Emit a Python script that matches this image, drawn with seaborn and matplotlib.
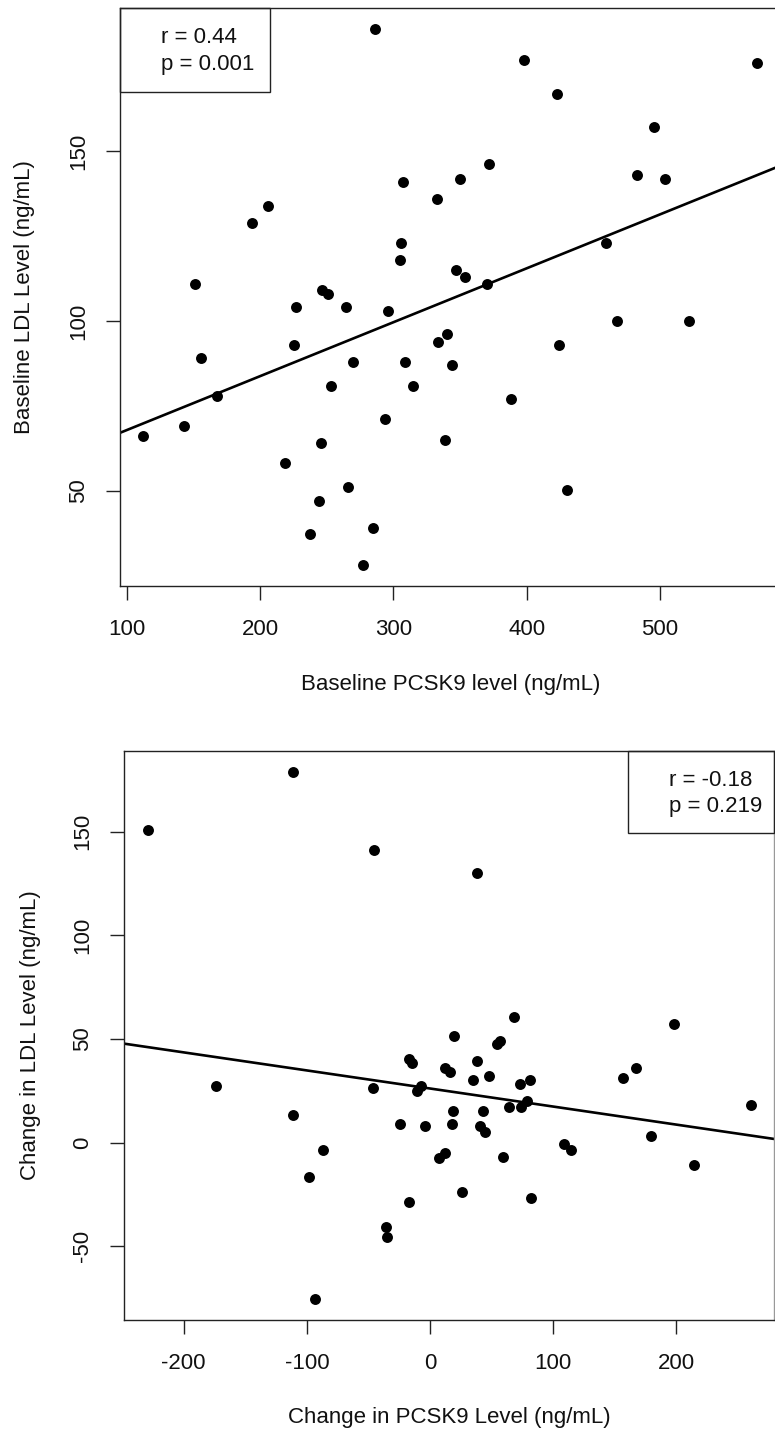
import numpy as np
import pandas as pd
import matplotlib
matplotlib.use("Agg")
import matplotlib.pyplot as plt
import seaborn as sns
from matplotlib.patches import Rectangle

# Top panel: baseline PCSK9 vs baseline LDL
base_pcsk9 = [286.5, 307.5, 333, 206, 193.7, 305.5, 304.7, 151.2, 246.2, 251.2,
              226.7, 264.5, 295.7, 398, 422.5, 573, 495.7, 371.7, 349.7, 482.5,
              503.7, 459.5, 347, 353.7, 370.2, 225.5, 155.7, 270, 309, 167.5,
              253, 315, 112.5, 143, 293.7, 245.7, 219, 265.7, 244, 237.5,
              284.5, 277, 333.7, 340.5, 343.7, 339, 388, 424, 467.5, 521.7, 430.2]
base_ldl = [186, 141, 136, 133.9, 129, 123.1, 118, 111, 109, 107.9,
            104.2, 104.2, 103, 176.8, 166.9, 176, 157, 146.1, 141.9, 143,
            141.9, 123.1, 115, 113, 111, 93, 89, 88, 88, 77.9,
            80.9, 80.9, 66.1, 69.1, 71, 64, 58.1, 51, 47, 37.1,
            39, 28.1, 93.9, 96.1, 86.9, 64.9, 77, 93, 100, 100, 50.1]

# Bottom panel: change in PCSK9 vs change in LDL
chg_pcsk9 = [-229.3, -111, -45.2, 37.9, 68, 19.2, 54.2, 56.9, 198.2, -174,
             -46, -17.3, -14.4, -7.6, -10.8, -111.5, -24.4, -4.1, -87.1, -98.3,
             7.6, -16.7, -35.7, -34.7, -93.2, 12.2, 16.2, 38.4, 34.9, 47.9,
             72.8, 81.5, 79, 64.4, 74.1, 18.9, 42.8, 17.6, 40.9, 44.7,
             12.2, 59.5, 109.1, 114.5, 26, 82.3, 156.7, 167.3, 179.5, 214.7, 260.7]
chg_ldl = [151.1, 178.9, 141.1, 130, 60.4, 51.4, 47.7, 49.1, 57.2, 27.1,
           26.3, 40.4, 38.4, 27.4, 25.1, 13.2, 9.2, 8.1, -3.5, -16.7,
           -7.5, -28.6, -40.7, -45.6, -75.5, 36.2, 34.2, 39.3, 30.3, 32.2,
           28.4, 30.3, 20.3, 17.2, 17.1, 15.3, 15.3, 9.2, 8.2, 5.3,
           -4.8, -6.8, -0.5, -3.7, -23.8, -26.7, 31.4, 36.2, 3.2, -10.8, 18.4]

top_ticks_x = [100, 200, 300, 400, 500]
top_ticks_y = [50, 100, 150]
bot_ticks_x = [-200, -100, 0, 100, 200]
bot_ticks_y = [-50, 0, 50, 100, 150]

top_stats = ["r = 0.44", "p = 0.001"]
bot_stats = ["r = -0.18", "p = 0.219"]

sns.set_style("white")
plt.rcParams['font.family'] = ['Liberation Sans', 'DejaVu Sans']
plt.rcParams['axes.unicode_minus'] = False
plt.rcParams['text.color'] = '#111111'
plt.rcParams['axes.labelcolor'] = '#111111'

W, H = 775, 1434
fig = plt.figure(figsize=(W / 100, H / 100), dpi=100)


def px_axes(l, t, r, b):
    return fig.add_axes([l / W, 1 - b / H, (r - l) / W, (b - t) / H])


def style_axes(ax, xticks, yticks):
    for s in ax.spines.values():
        s.set_color('#222222')
        s.set_linewidth(1.0)
    ax.set_xticks(xticks)
    ax.set_yticks(yticks)
    ax.tick_params(axis='both', direction='out', length=10, width=1.0,
                   color='#222222', labelcolor='#111111', labelsize=16,
                   bottom=True, left=True)
    ax.tick_params(axis='x', pad=14)
    ax.tick_params(axis='y', pad=12)
    for lab in ax.get_yticklabels():
        lab.set_rotation(90)
        lab.set_va('center')


def draw(ax, x, y, xlim, ylim):
    ax.set_xlim(*xlim)
    ax.set_ylim(*ylim)
    df = pd.DataFrame({'x': x, 'y': y})
    sns.regplot(data=df, x='x', y='y', ax=ax, ci=None, truncate=False,
                scatter_kws=dict(s=62, color='black', linewidths=0, alpha=1),
                line_kws=dict(color='black', linewidth=1.9))
    ax.set_xlim(*xlim)
    ax.set_ylim(*ylim)


def stat_box(ax, x0, y0, w, h, tx, ty, lines):
    ax.add_patch(Rectangle((x0, y0), w, h, transform=ax.transAxes,
                           fill=False, edgecolor='#222222', linewidth=1.0,
                           clip_on=False, zorder=5))
    for yy, s in zip(ty, lines):
        ax.text(tx, yy, s, transform=ax.transAxes, ha='left', va='center',
                fontsize=16, color='#111111')


# top panel (right side runs off the image like the reference)
ax1 = px_axes(120, 8, 782, 586)
draw(ax1, base_pcsk9, base_ldl, (95, 591.5), (21.9, 192.2))
style_axes(ax1, top_ticks_x, top_ticks_y)
ax1.set_xlabel('Baseline PCSK9 level (ng/mL)', fontsize=16)
ax1.set_ylabel('Baseline LDL Level (ng/mL)', fontsize=16)
ax1.xaxis.set_label_coords(0.5, -0.1696)
ax1.xaxis.label.set_va('center')
ax1.yaxis.set_label_coords(-0.145, 0.5)
ax1.yaxis.label.set_va('center')
stat_box(ax1, 0, 0.8547, 0.2266, 0.1453, 0.0619, [0.9486, 0.9014], top_stats)

# bottom panel
ax2 = px_axes(124, 751, 774, 1320)
draw(ax2, chg_pcsk9, chg_ldl, (-248.5, 279.4), (-85.6, 189))
style_axes(ax2, bot_ticks_x, bot_ticks_y)
ax2.spines['right'].set_color('#999999')
ax2.set_xlabel('Change in PCSK9 Level (ng/mL)', fontsize=16)
ax2.set_ylabel('Change in LDL Level (ng/mL)', fontsize=16)
ax2.xaxis.set_label_coords(0.5, -0.172)
ax2.xaxis.label.set_va('center')
ax2.yaxis.set_label_coords(-0.1446, 0.5)
ax2.yaxis.label.set_va('center')
stat_box(ax2, 0.7754, 0.8559, 0.2246, 0.1441, 0.839, [0.949, 0.902], bot_stats)

fig.savefig('out.png', dpi=100)
